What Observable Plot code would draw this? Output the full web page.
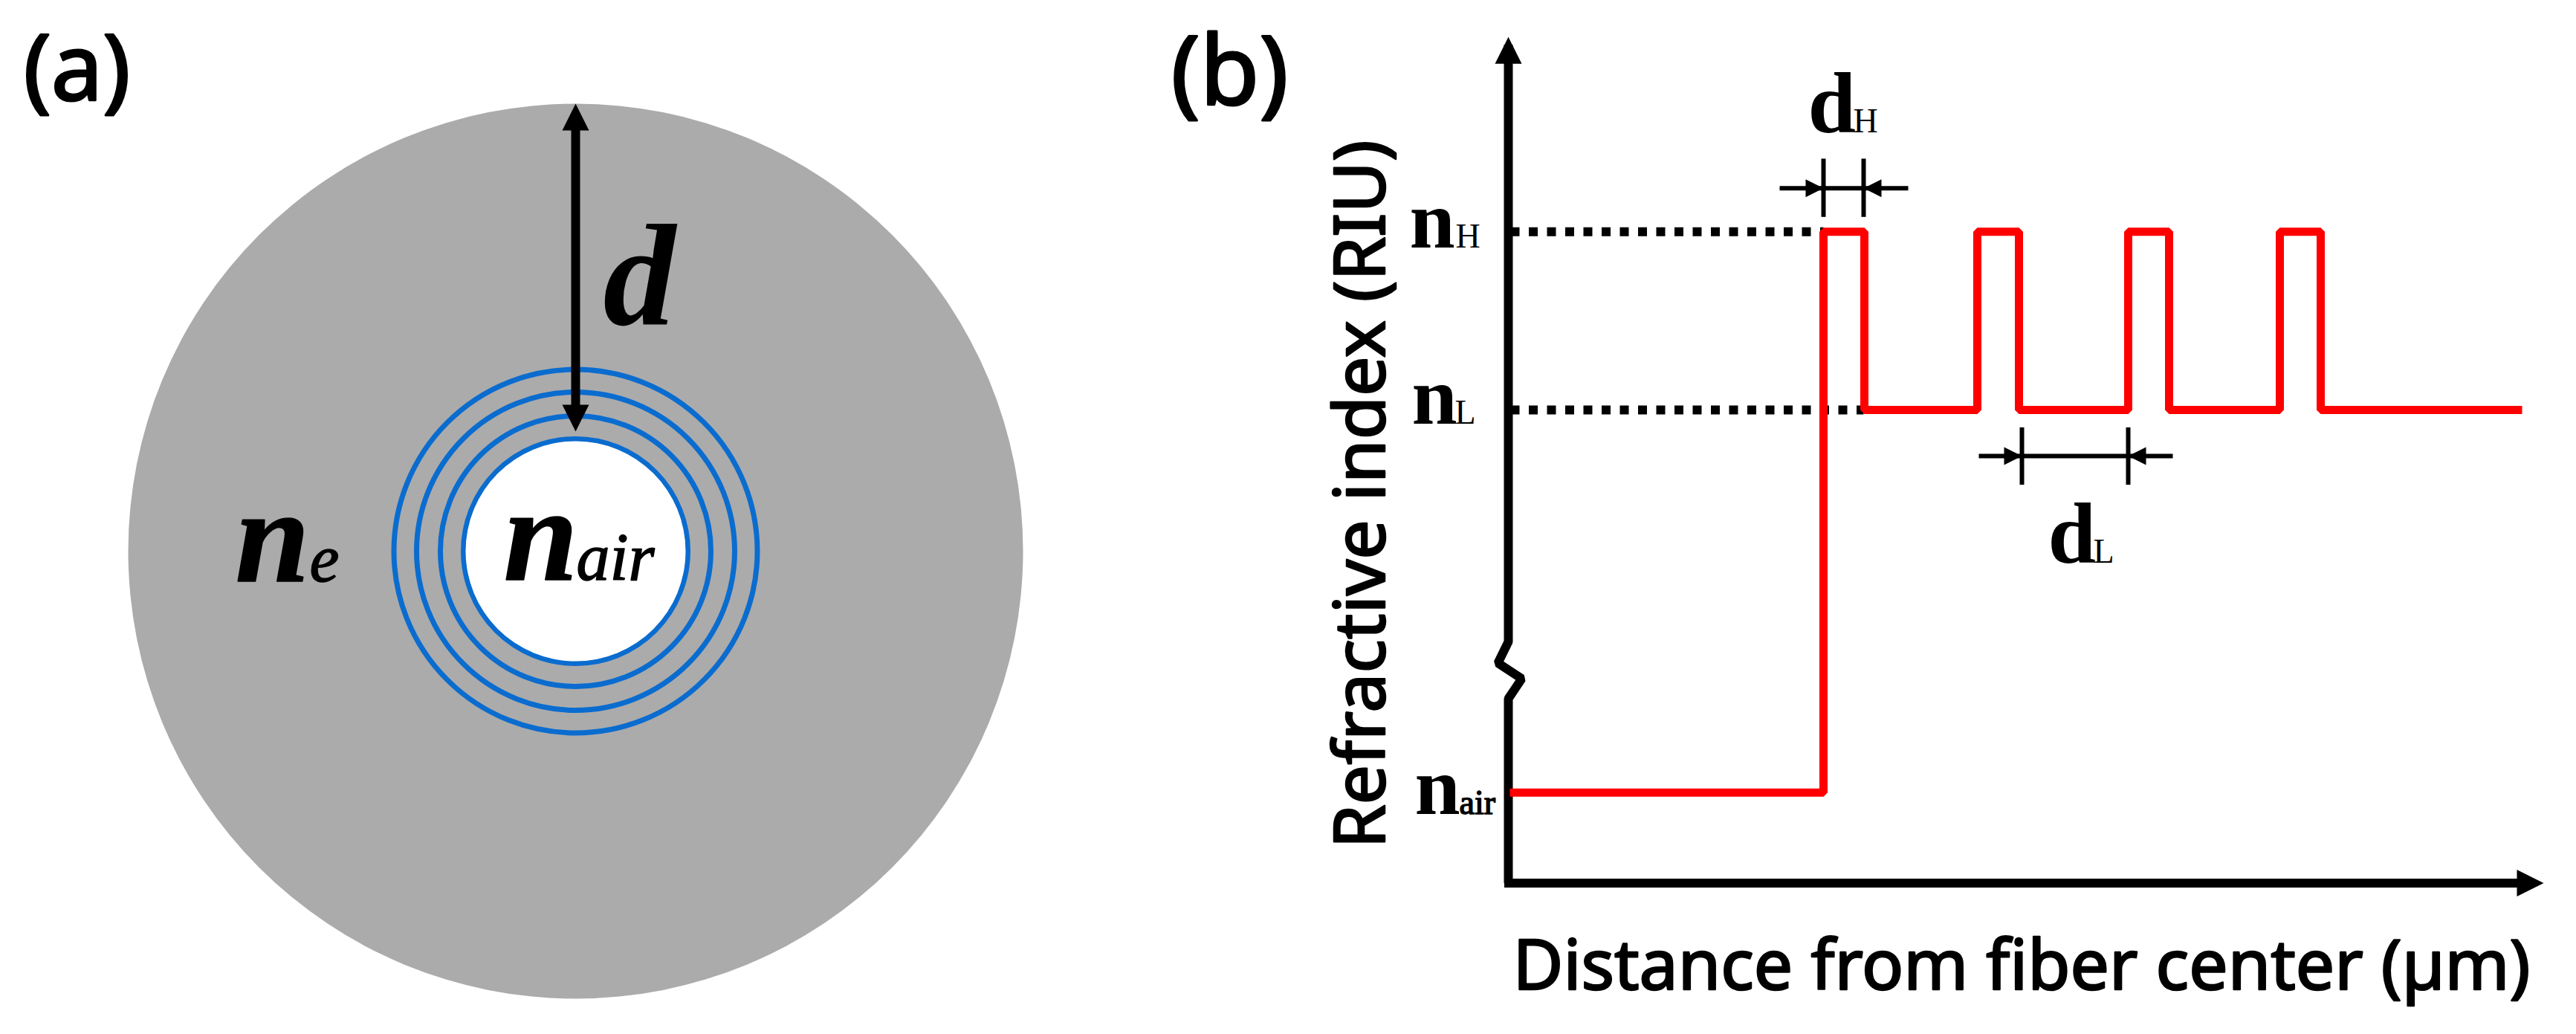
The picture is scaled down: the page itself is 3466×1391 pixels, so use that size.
<!DOCTYPE html>
<html><head><meta charset="utf-8">
<script src="https://cdn.jsdelivr.net/npm/d3@7"></script>
<script src="https://cdn.jsdelivr.net/npm/@observablehq/plot@0.6"></script>
<style>
html,body{margin:0;padding:0;background:#fff;}
#row{display:flex;width:3466px;height:1391px;}
#row svg{flex:none;max-width:none;display:block;}
</style></head><body><div id="row"></div>
<script>
// Panel (a): cross-section radii (arbitrary units)
const fiberRadius = [60.2];
const ringRadii = [24.45, 21.4, 18.2, 15.1];
const airRadius = [14.8];
const thicknessArrow = [{x:0, y:58.0}, {x:0, y:19.5}];

// Panel (b): refractive index profile
const nAir = 1.0, nL = 1.44, nH = 1.645;
const profileX = [0.02, 4.24, 4.24, 4.79, 4.79, 6.31, 6.31, 6.87, 6.87, 8.34, 8.34, 8.89, 8.89, 10.38, 10.38, 10.93, 10.93, 13.64];
const profileN = [nAir, nAir, nH, nH, nL, nL, nH, nH, nL, nL, nH, nH, nL, nL, nH, nH, nL, nL];
const yAxisX = [0, 0, -0.14, 0.18, 0, 0];
const yAxisN = [1.86, 1.1735, 1.149, 1.131, 1.108, 0.896];
const xAxisX = [-0.055, 13.75];
const xAxisN = [0.896, 0.896];

const head = {draw(ctx, size){
  const r = Math.sqrt(size / Math.PI);
  ctx.moveTo(0, 0); ctx.lineTo(r, 2 * r); ctx.lineTo(-r, 2 * r); ctx.closePath();
}};
const serif = "Liberation Serif";
const sans = "Noto Sans";
const txt = (s, x, y, o) => Plot.text([s], {x: () => x, y: () => y, text: d => d, textAnchor: "start", lineAnchor: "bottom", fontFamily: serif, fill: "#000", ...o});
const heavy = {stroke: "#000", strokeWidth: 1.5};

const panelA = Plot.plot({
  width: 1500, height: 1391, margin: 0,
  x: {domain: [-77.4, 72.6], range: [0, 1500], axis: null},
  y: {domain: [-65.0, 74.1], range: [1391, 0], axis: null},
  r: {type: "linear", domain: [0, 100], range: [0, 1000], clamp: false},
  marks: [
    Plot.dot(fiberRadius, {x: () => 0, y: () => 0, r: d => d, fill: "#ababab", stroke: "none"}),
    Plot.dot(ringRadii, {x: () => 0, y: () => 0, r: d => d, fill: "none", stroke: "#0a6ccf", strokeWidth: 7}),
    Plot.dot(airRadius, {x: () => 0, y: () => 0, r: d => d, fill: "#fff", stroke: "none"}),
    Plot.line(thicknessArrow, {x: "x", y: "y", stroke: "#000", strokeWidth: 12, strokeLinecap: "butt"}),
    Plot.dot([0], {x: () => 0, y: () => 60.2, r: 18, symbol: head, fill: "#000", stroke: "none", rotate: 0}),
    Plot.dot([0], {x: () => 0, y: () => 16.1, r: 18, symbol: head, fill: "#000", stroke: "none", rotate: 180}),
    txt("(a)", -74.3, 60.7, {fontFamily: sans, fontSize: 124, ...heavy, strokeWidth: 3}),
    txt("d", 3.7, 30.6, {fontWeight: "bold", fontStyle: "italic", fontSize: 195}),
    txt("n", -45.8, -4.0, {fontWeight: "bold", fontStyle: "italic", fontSize: 180, ...heavy}),
    txt("e", -35.8, -4.0, {fontStyle: "italic", fontSize: 90, ...heavy}),
    txt("n", -9.7, -3.8, {fontWeight: "bold", fontStyle: "italic", fontSize: 180, ...heavy}),
    txt("air", 0.1, -3.8, {fontStyle: "italic", fontSize: 90, ...heavy})
  ]
});

const dash = {stroke: "#000", strokeWidth: 12, strokeDasharray: "12 12.5", strokeLinecap: "butt"};
const dimRule = {stroke: "#000", strokeWidth: 6, strokeLinecap: "butt"};
const tip = {r: 12, symbol: head, fill: "#000", stroke: "none"};
const at = (x, y) => ({x: () => x, y: () => y});

const panelB = Plot.plot({
  width: 1966, height: 1391, margin: 0,
  x: {domain: [-5.29, 14.37], range: [0, 1966], axis: null},
  y: {domain: [0.722, 1.911], range: [1391, 0], axis: null},
  marks: [
    Plot.line(yAxisX, {x: d => d, y: (d, i) => yAxisN[i], stroke: "#000", strokeWidth: 12, strokeLinejoin: "miter", strokeLinecap: "butt"}),
    Plot.line(xAxisX, {x: d => d, y: (d, i) => xAxisN[i], stroke: "#000", strokeWidth: 12, strokeLinecap: "butt"}),
    Plot.dot([0], {...at(0, 1.869), r: 18, symbol: head, fill: "#000", stroke: "none", rotate: 0}),
    Plot.dot([0], {...at(13.93, 0.896), r: 18, symbol: head, fill: "#000", stroke: "none", rotate: 90}),
    Plot.line([0.03, 4.24], {x: d => d, y: () => nH, ...dash}),
    Plot.line([0.03, 4.78], {x: d => d, y: () => nL, ...dash}),
    Plot.line(profileX, {x: d => d, y: (d, i) => profileN[i], stroke: "#ff0000", strokeWidth: 11, strokeLinejoin: "miter", strokeLinecap: "butt", curve: "linear"}),
    Plot.line([3.65, 5.38], {x: d => d, y: () => 1.695, ...dimRule}),
    Plot.line([1.729, 1.662], {x: () => 4.24, y: d => d, ...dimRule}),
    Plot.line([1.729, 1.662], {x: () => 4.78, y: d => d, ...dimRule}),
    Plot.dot([0], {...at(4.24, 1.695), ...tip, rotate: 90}),
    Plot.dot([0], {...at(4.78, 1.695), ...tip, rotate: -90}),
    Plot.line([6.33, 8.94], {x: d => d, y: () => 1.387, ...dimRule}),
    Plot.line([1.42, 1.354], {x: () => 6.91, y: d => d, ...dimRule}),
    Plot.line([1.42, 1.354], {x: () => 8.34, y: d => d, ...dimRule}),
    Plot.dot([0], {...at(6.91, 1.387), ...tip, rotate: 90}),
    Plot.dot([0], {...at(8.34, 1.387), ...tip, rotate: -90}),
    txt("(b)", -4.54, 1.791, {fontFamily: sans, fontSize: 130, ...heavy, strokeWidth: 3}),
    Plot.text(["Refractive index (RIU)"], {...at(-1.67, 1.343), text: d => d, rotate: -90, textAnchor: "middle", lineAnchor: "bottom", fontFamily: sans, fontSize: 95, fill: "#000", ...heavy, strokeWidth: 2.5}),
    txt("Distance from fiber center (µm)", 0.06, 0.7735, {fontFamily: sans, fontSize: 93, ...heavy, strokeWidth: 2.5}),
    txt("n", -1.33, nH, {dy: 21, fontWeight: "bold", fontSize: 110}),
    txt("H", -0.71, nH, {dy: 21, fontSize: 46}),
    txt("n", -1.30, nL, {dy: 18, fontWeight: "bold", fontSize: 110}),
    txt("L", -0.72, nL, {dy: 18, fontSize: 46}),
    txt("n", -1.26, nAir, {dy: 29, fontWeight: "bold", fontSize: 110}),
    txt("air", -0.66, nAir, {dy: 29, fontSize: 46, ...heavy}),
    txt("d", 4.03, 1.759, {fontWeight: "bold", fontSize: 116}),
    txt("H", 4.64, 1.759, {fontSize: 46}),
    txt("d", 7.26, 1.264, {fontWeight: "bold", fontSize: 116}),
    txt("L", 7.87, 1.264, {fontSize: 46})
  ]
});
const row = document.getElementById("row");
row.append(panelA, panelB);
</script></body></html>
